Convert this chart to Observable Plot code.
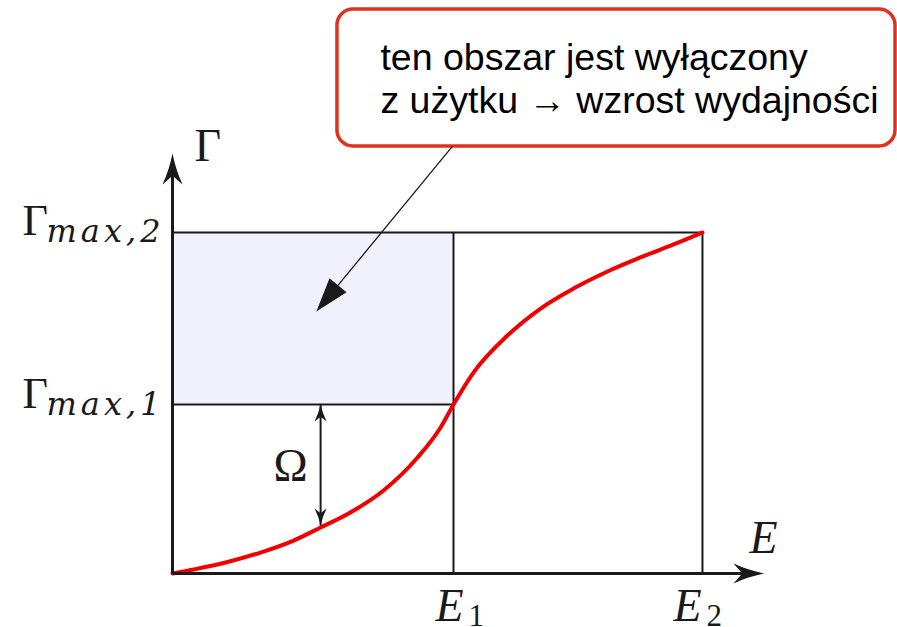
<!DOCTYPE html>
<html>
<head>
<meta charset="utf-8">
<script src="https://cdn.jsdelivr.net/npm/d3@7"></script>
<script src="https://cdn.jsdelivr.net/npm/@observablehq/plot@0.6"></script>
<style>
  body { margin: 0; background: #fff; }
  svg text { font-kerning: normal; }
  .gamma-sub, svg g[font-size="32"] { letter-spacing: 4px; }
</style>
</head>
<body>
<div id="chart"></div>
<script>
// Energy thresholds on the horizontal axis
const energyNames = ["E", "E"];
const energySubs = ["1", "2"];
const energyValues = [1.0, 1.886];

// Γ levels on the vertical axis
const gammaNames = ["Γ", "Γ"];
const gammaSubs = ["max,1", "max,2"];
const gammaValues = [1.0, 2.018];

// Γ(E) response curve
const curveE =     [0, 0.075, 0.196, 0.313, 0.431, 0.527, 0.633, 0.751, 0.872, 0.954, 1.0, 1.071, 1.192, 1.310, 1.427, 1.548, 1.665, 1.783, 1.886];
const curveGamma = [0, 0.024, 0.068, 0.124, 0.195, 0.272, 0.361, 0.491, 0.686, 0.864, 1.0, 1.189, 1.408, 1.568, 1.686, 1.787, 1.870, 1.947, 2.018];

// Axis extents (arrow tips)
const axisEndE = 2.107;
const axisEndGamma = 2.485;

// Ω gap between Γmax,1 and the curve
const omegaE = 0.527;
const omegaTop = 1.0;
const omegaBottom = 0.284;

// Callout box and its pointer
const calloutX = [0.587, 2.573];
const calloutY = [2.527, 3.337];
const calloutLines = ["ten obszar jest wyłączony", "z użytku → wzrost wydajności"];
const pointerFrom = [0.996, 2.527];
const pointerTo = [0.512, 1.550];

const xOpts = {domain: [0, 1], range: [172, 453]};
const yOpts = {domain: [0, 1], range: [573, 404]};
const sx = Plot.scale({x: xOpts});
const sy = Plot.scale({y: yOpts});

// Heading (degrees clockwise from up) of a segment, in screen space
function heading(x0, y0, x1, y1) {
  const dx = sx.apply(x1) - sx.apply(x0);
  const dy = sy.apply(y1) - sy.apply(y0);
  return Math.atan2(dx, -dy) * 180 / Math.PI;
}
// Move a point back along a segment by a number of pixels
function pullBack(x0, y0, x1, y1, px) {
  const X0 = sx.apply(x0), Y0 = sy.apply(y0), X1 = sx.apply(x1), Y1 = sy.apply(y1);
  const L = Math.hypot(X1 - X0, Y1 - Y0);
  return [sx.invert(X1 - (X1 - X0) * px / L), sy.invert(Y1 - (Y1 - Y0) * px / L)];
}

// Arrowhead symbols: tip at the origin, pointing up
const stealth = (len, half) => ({
  draw(ctx) {
    ctx.moveTo(0, 0);
    ctx.quadraticCurveTo(half * 0.35, len * 0.55, half, len);
    ctx.lineTo(0, len * 0.72);
    ctx.lineTo(-half, len);
    ctx.quadraticCurveTo(-half * 0.35, len * 0.55, 0, 0);
    ctx.closePath();
  }
});
const triangle = (len, half) => ({
  draw(ctx) {
    ctx.moveTo(0, 0);
    ctx.lineTo(half, len);
    ctx.lineTo(-half, len);
    ctx.closePath();
  }
});

const ink = "#1a1a1a";
const serif = "'Liberation Serif', 'DejaVu Serif', serif";
const mathItalic = "'DejaVu Serif', 'Liberation Serif', serif";

const energies = energyValues.map((v, i) => ({name: energyNames[i], sub: energySubs[i], value: v}));
const gammas = gammaValues.map((v, i) => ({name: gammaNames[i], sub: gammaSubs[i], value: v}));
const curve = curveE.map((e, i) => ({e, g: curveGamma[i]}));

// label offsets below each energy tick
const energyLabelShift = {"1": -18, "2": -29};

function head(x, y, angle, shape) {
  return Plot.dot([{x, y}], {x: "x", y: "y", symbol: shape, rotate: angle, fill: ink, stroke: "none", r: 10});
}

const [eLineEnd] = pullBack(0, 0, axisEndE, 0, 20);
const [, gLineEnd] = pullBack(0, 0, 0, axisEndGamma, 20);
const pointerEnd = pullBack(pointerFrom[0], pointerFrom[1], pointerTo[0], pointerTo[1], 20);

const marks = [
  // shaded unused region
  Plot.rect([{}], {x1: 0, x2: energyValues[0], y1: gammaValues[0], y2: gammaValues[1], fill: "#f1f1fd"}),
  // guide lines
  Plot.ruleY([gammaValues[1]], {x1: 0, x2: energyValues[1], stroke: ink, strokeWidth: 2}),
  Plot.ruleY([gammaValues[0]], {x1: 0, x2: energyValues[0], stroke: ink, strokeWidth: 2}),
  Plot.ruleX(energyValues, {y1: 0, y2: gammaValues[1], stroke: ink, strokeWidth: 2}),
  // curve
  Plot.line(curve, {x: "e", y: "g", stroke: "#f20000", strokeWidth: 4, curve: "monotone-x"}),
  // axes
  Plot.link([{}], {x1: 0, y1: 0, x2: eLineEnd, y2: 0, stroke: ink, strokeWidth: 3}),
  Plot.link([{}], {x1: 0, y1: 0, x2: 0, y2: gLineEnd, stroke: ink, strokeWidth: 3}),
  head(axisEndE, 0, 90, stealth(31, 10)),
  head(0, axisEndGamma, 0, stealth(31, 10)),
  // Ω double arrow
  Plot.link([{}], {x1: omegaE, y1: omegaTop, x2: omegaE, y2: omegaBottom, stroke: ink, strokeWidth: 2}),
  head(omegaE, omegaTop, 0, stealth(17, 6)),
  head(omegaE, omegaBottom, 180, stealth(17, 6)),
  Plot.text([{}], {x: omegaE, y: (omegaTop + omegaBottom) / 2, text: () => "Ω", textAnchor: "start", lineAnchor: "bottom",
    dx: -47, dy: 16, fontFamily: serif, fontSize: 46, fill: ink}),
  // axis names
  Plot.text([{}], {x: 0, y: axisEndGamma, text: () => "Γ", textAnchor: "start", lineAnchor: "bottom",
    dx: 22, dy: 7, fontFamily: serif, fontSize: 46, fill: ink}),
  Plot.text([{}], {x: axisEndE, y: 0, text: () => "E", textAnchor: "start", lineAnchor: "bottom",
    dx: -15, dy: -21, fontFamily: serif, fontStyle: "italic", fontSize: 46, fill: ink}),
  // Γ tick labels
  Plot.text(gammas, {x: 0, y: "value", text: "name", textAnchor: "start", lineAnchor: "bottom",
    dx: -150, dy: 3, fontFamily: serif, fontSize: 44, fill: ink}),
  Plot.text(gammas, {x: 0, y: "value", text: "sub", textAnchor: "end", lineAnchor: "bottom",
    dx: -8, dy: 10, fontFamily: mathItalic, fontStyle: "italic", fontSize: 32, fill: ink, className: "gamma-sub"}),
  // E tick labels
  ...energies.map(d => Plot.text([d], {x: "value", y: 0, text: "name", textAnchor: "start", lineAnchor: "bottom",
    dx: energyLabelShift[d.sub], dy: 47, fontFamily: serif, fontStyle: "italic", fontSize: 46, fill: ink})),
  ...energies.map(d => Plot.text([d], {x: "value", y: 0, text: "sub", textAnchor: "start", lineAnchor: "bottom",
    dx: energyLabelShift[d.sub] + 33, dy: 52, fontFamily: serif, fontSize: 31, fill: ink})),
  // callout
  Plot.rect([{}], {x1: calloutX[0], x2: calloutX[1], y1: calloutY[0], y2: calloutY[1],
    fill: "white", stroke: "#e0301e", strokeWidth: 3.5, rx: 16}),
  Plot.text([{}], {x: calloutX[0], y: calloutY[1], text: () => calloutLines.join("\n"), textAnchor: "start", lineAnchor: "bottom",
    dx: 43, dy: 103, fontFamily: "'Liberation Sans', Arial, sans-serif", fontSize: 37.5, lineHeight: 1.13, fill: "#000"}),
  Plot.link([{}], {x1: pointerFrom[0], y1: pointerFrom[1], x2: pointerEnd[0], y2: pointerEnd[1], stroke: ink, strokeWidth: 1.3}),
  head(pointerTo[0], pointerTo[1], heading(pointerFrom[0], pointerFrom[1], pointerTo[0], pointerTo[1]), triangle(34, 11))
];

const chart = Plot.plot({
  width: 897,
  height: 627,
  margin: 0,
  x: {...xOpts, axis: null},
  y: {...yOpts, axis: null},
  style: {background: "#fff", overflow: "visible"},
  marks
});
document.getElementById("chart").appendChild(chart);
</script>
</body>
</html>
